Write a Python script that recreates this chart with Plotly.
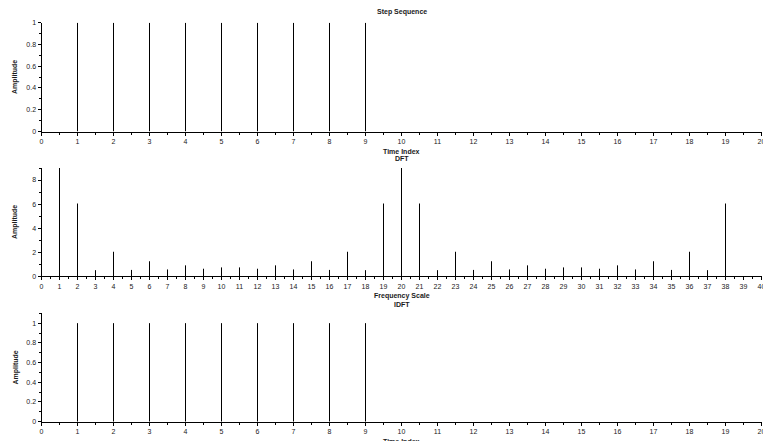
import plotly.graph_objects as go

# Input step sequence: ones at n = 1..9 on a 0..20 time axis
step_n = list(range(0, 21))
step_x = [0, 1, 1, 1, 1, 1, 1, 1, 1, 1, 0, 0, 0, 0, 0, 0, 0, 0, 0, 0, 0]

# DFT magnitude on the 0..40 frequency scale
dft_k = list(range(1, 39))
dft_mag = [9.0, 6.05, 0.51, 2.04, 0.53, 1.25, 0.57, 0.91, 0.63, 0.74,
           0.74, 0.63, 0.91, 0.57, 1.25, 0.53, 2.04, 0.51, 6.05,
           9.0, 6.05, 0.51, 2.04, 0.53, 1.25, 0.57, 0.91, 0.63, 0.74,
           0.74, 0.63, 0.91, 0.57, 1.25, 0.53, 2.04, 0.51, 6.05]

# Recovered sequence after the inverse transform
idft_n = list(range(0, 21))
idft_x = [0, 1, 1, 1, 1, 1, 1, 1, 1, 1, 0, 0, 0, 0, 0, 0, 0, 0, 0, 0, 0]

W, H = 763, 441
FONT = "Liberation Sans, Arial, sans-serif"
TXT = "#1a1a1a"


def stems(xs, ys):
    """Vertical lines from 0 to each value (plot2d3 style)."""
    px, py = [], []
    for a, b in zip(xs, ys):
        px += [a, a, None]
        py += [0, b, None]
    return px, py


fig = go.Figure()
for i, (xs, ys) in enumerate([(step_n, step_x), (dft_k, dft_mag), (idft_n, idft_x)]):
    sx, sy = stems(xs, ys)
    ax = "" if i == 0 else str(i + 1)
    fig.add_trace(go.Scatter(x=sx, y=sy, mode="lines",
                             line=dict(color="black", width=1),
                             xaxis="x" + ax, yaxis="y" + ax,
                             hoverinfo="skip", showlegend=False))


def px_x(v):
    return v / W


def px_y(v):
    return 1 - v / H


xdom = [px_x(41.5), px_x(761.5)]
ydoms = [[px_y(131.5), px_y(22.7)],
         [px_y(276.3), px_y(168.0)],
         [px_y(421.7), px_y(313.3)]]
xranges = [[0, 20], [0, 40], [0, 20]]
yranges = [[0, 1], [0, 9], [0, 1.1]]
ydticks = [0.2, 2, 0.2]
yminor = [0.1, 1, 0.1]

tickfont = dict(family=FONT, size=7, color=TXT)
layout = dict(
    width=W, height=H,
    margin=dict(l=0, r=0, t=0, b=0, autoexpand=False),
    paper_bgcolor="white", plot_bgcolor="white",
    showlegend=False,
)
for i in range(3):
    ax = "" if i == 0 else str(i + 1)
    layout["xaxis" + ax] = dict(
        domain=xdom, range=xranges[i], anchor="y" + ax,
        tickmode="linear", tick0=0, dtick=1,
        ticks="outside", ticklen=3, tickcolor="black", tickwidth=1,
        minor=dict(ticks="outside", ticklen=2, dtick=0.5, tick0=0,
                   tickcolor="black", tickwidth=1),
        showline=True, linecolor="black", linewidth=1,
        showgrid=False, zeroline=False, tickfont=tickfont,
        ticklabeloverflow="allow", automargin=False,
        fixedrange=True,
    )
    layout["yaxis" + ax] = dict(
        domain=ydoms[i], range=yranges[i], anchor="x" + ax,
        tickmode="linear", tick0=0, dtick=ydticks[i],
        ticks="outside", ticklen=3, tickcolor="black", tickwidth=1,
        minor=dict(ticks="outside", ticklen=2, dtick=yminor[i], tick0=0,
                   tickcolor="black", tickwidth=1),
        showline=True, linecolor="black", linewidth=1,
        showgrid=False, zeroline=False, tickfont=tickfont,
        ticklabeloverflow="allow", automargin=False,
        fixedrange=True,
    )
fig.update_layout(**layout)

labfont = dict(family=FONT, size=7, color=TXT, weight="bold")
cx = px_x(401.5)
texts = [
    ("Step Sequence", cx, 12.0, 0),
    ("Time Index", cx, 151.5, 0),
    ("DFT", cx, 159.0, 0),
    ("Frequency Scale", cx, 296.0, 0),
    ("IDFT", cx, 304.0, 0),
    ("Time Index", cx, 442.0, 0),
    ("Amplitude", px_x(15), 77.0, -90),
    ("Amplitude", px_x(15), 222.0, -90),
    ("Amplitude", px_x(15), 367.5, -90),
]
for t, x, y, ang in texts:
    fig.add_annotation(text=t, x=x, y=px_y(y), xref="paper", yref="paper",
                       showarrow=False, textangle=ang, font=labfont,
                       xanchor="center", yanchor="middle")

fig.write_html("out.html")
